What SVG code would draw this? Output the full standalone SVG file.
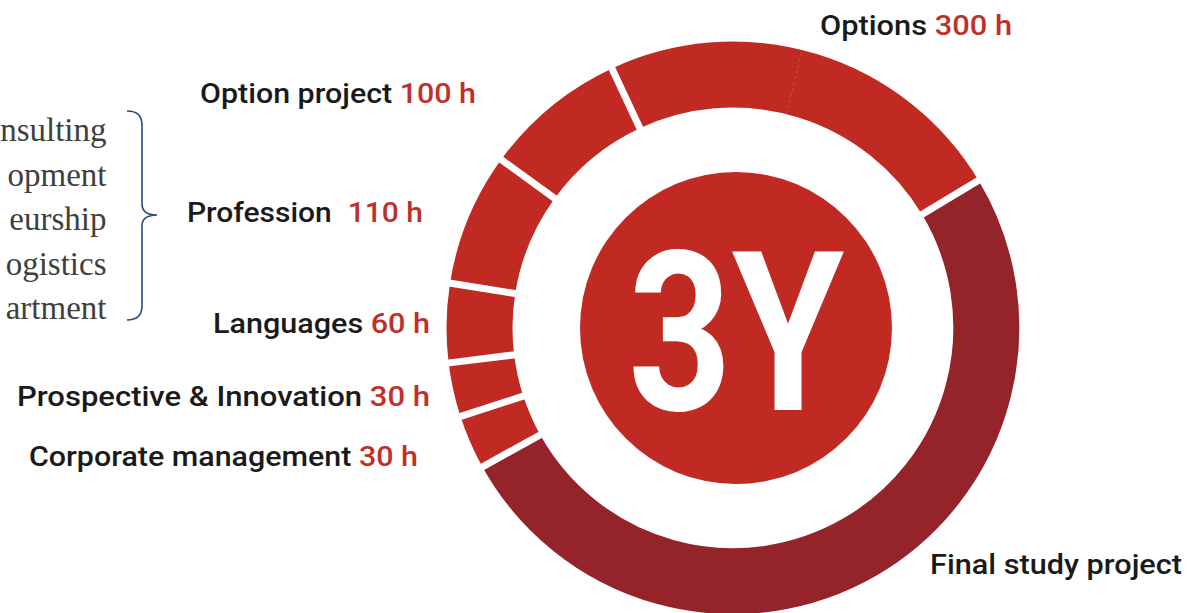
<svg xmlns="http://www.w3.org/2000/svg" width="1192" height="613" viewBox="0 0 1192 613">
<style>
.seg{fill:none;stroke-width:66;stroke-linecap:butt}
.red{stroke:#C02A22}
.dark{stroke:#94232A}
.gap{stroke:#FFFFFF;stroke-width:7;stroke-linecap:butt}
.lbl{font-family:Roboto,"Liberation Sans",sans-serif;font-weight:500;font-size:28px;fill:#1A1A1A}
.h{fill:#C0302A}
.ser{font-family:"Liberation Serif","Times New Roman",serif;font-size:33px;fill:#404040;text-anchor:end}
.brace{fill:none;stroke:#2B4A7E;stroke-width:1.6}
</style>
<g id="ring">
<g id="seg-options"><path class="seg red" d="M625.9,98.3 A253.5,253.5 0 0 1 950.3,197.4"/><line x1="786.3" y1="114.1" x2="802.3" y2="50.0" stroke="#D9736D" stroke-width="0.8" stroke-dasharray="3,3" opacity="0.6"/></g>
<g id="seg-final"><path class="seg dark" d="M950.3,197.4 A253.5,253.5 0 1 1 511.3,450.9"/></g>
<g id="seg-corporate"><path class="seg red" d="M511.3,450.9 A253.5,253.5 0 0 1 491.9,406.3"/></g>
<g id="seg-prospective"><path class="seg red" d="M491.9,406.3 A253.5,253.5 0 0 1 481.4,358.9"/></g>
<g id="seg-languages"><path class="seg red" d="M481.4,358.9 A253.5,253.5 0 0 1 482.6,288.3"/></g>
<g id="seg-profession"><path class="seg red" d="M482.6,288.3 A253.5,253.5 0 0 1 527.9,179.0"/></g>
<g id="seg-optionproject"><path class="seg red" d="M527.9,179.0 A253.5,253.5 0 0 1 625.9,98.3"/></g>
<g id="gaps">
<line class="gap" x1="642.1" y1="133.1" x2="609.6" y2="63.4"/>
<line class="gap" x1="917.3" y1="217.3" x2="983.3" y2="177.6"/>
<line class="gap" x1="545.0" y1="432.2" x2="477.6" y2="469.6"/>
<line class="gap" x1="528.5" y1="394.4" x2="455.3" y2="418.2"/>
<line class="gap" x1="519.6" y1="354.2" x2="443.2" y2="363.6"/>
<line class="gap" x1="520.6" y1="294.4" x2="444.6" y2="282.3"/>
<line class="gap" x1="559.1" y1="201.6" x2="496.8" y2="156.4"/>
</g>
</g>
<g id="center">
<circle cx="736" cy="328" r="156" fill="#C02A22"/>
<text x="736" y="410" text-anchor="middle" font-family="Roboto,'Liberation Sans',sans-serif" font-weight="700" font-size="222" fill="#FFFFFF" textLength="216" lengthAdjust="spacingAndGlyphs">3Y</text>
</g>
<g id="labels">
<g id="lbl-options"><text class="lbl" x="820" y="35" textLength="192" lengthAdjust="spacingAndGlyphs">Options <tspan class="h">300 h</tspan></text></g>
<g id="lbl-optionproject"><text class="lbl" x="200" y="103" textLength="276" lengthAdjust="spacingAndGlyphs">Option project <tspan class="h">100 h</tspan></text></g>
<g id="lbl-profession"><text class="lbl" x="187" y="222" textLength="236" lengthAdjust="spacingAndGlyphs">Profession <tspan class="h" dx="8">110 h</tspan></text></g>
<g id="lbl-languages"><text class="lbl" x="213" y="333" textLength="217" lengthAdjust="spacingAndGlyphs">Languages <tspan class="h">60 h</tspan></text></g>
<g id="lbl-prospective"><text class="lbl" x="17" y="406" textLength="413" lengthAdjust="spacingAndGlyphs">Prospective &amp; Innovation <tspan class="h">30 h</tspan></text></g>
<g id="lbl-corporate"><text class="lbl" x="29" y="466" textLength="389" lengthAdjust="spacingAndGlyphs">Corporate management <tspan class="h">30 h</tspan></text></g>
<g id="lbl-final"><text class="lbl" x="930" y="574" textLength="252" lengthAdjust="spacingAndGlyphs">Final study project</text></g>
</g>
<g id="profession-list">
<text class="ser" x="106.5" y="141">nsulting</text>
<text class="ser" x="106.5" y="186">opment</text>
<text class="ser" x="106.5" y="230">eurship</text>
<text class="ser" x="106.5" y="275">ogistics</text>
<text class="ser" x="106.5" y="319">artment</text>
<path class="brace" d="M127,111 Q142,111 142,125 L142,204 Q142,215 157,215 Q142,215 142,226 L142,306 Q142,320 127,320"/>
</g>
</svg>
